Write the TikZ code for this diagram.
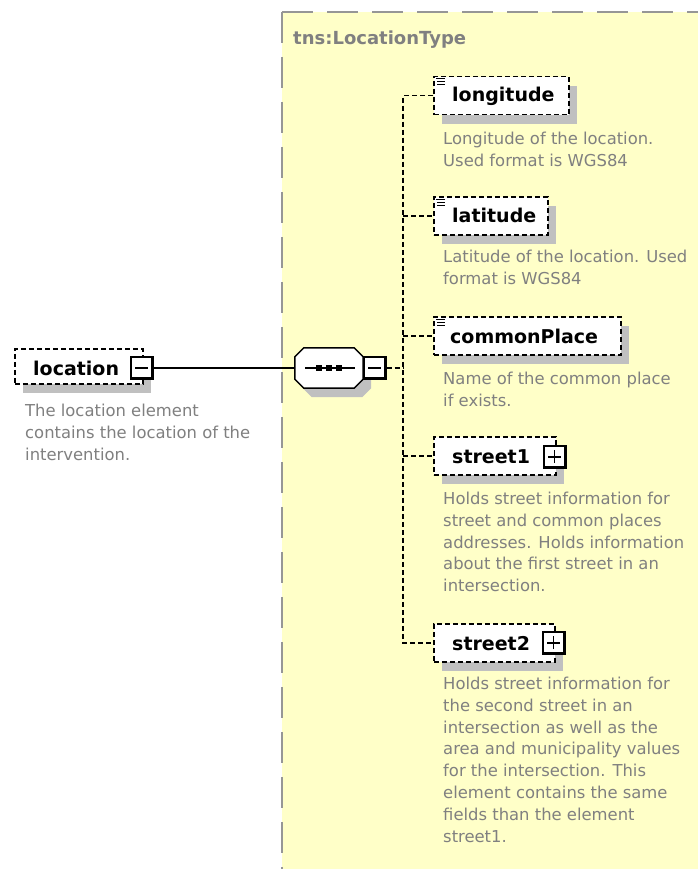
\documentclass[tikz,border=0pt]{standalone}
\usepackage{fontspec}
\setmainfont{DejaVu Sans}
\usetikzlibrary{shadows}

\definecolor{typefill}{RGB}{255,255,200}
\definecolor{typeedge}{RGB}{150,150,150}
\definecolor{shadowgray}{RGB}{192,192,192}
\definecolor{doc}{RGB}{128,128,128}

% octagon with 9pt chamfers spanning the given node
\newcommand\octagonpath[1]{([xshift=9pt]#1.north west) -- ([xshift=-9pt]#1.north east)
    -- ([yshift=-9pt]#1.north east) -- ([yshift=9pt]#1.south east)
    -- ([xshift=-9pt]#1.south east) -- ([xshift=9pt]#1.south west)
    -- ([yshift=9pt]#1.south west) -- ([yshift=-9pt]#1.north west) -- cycle}

\tikzset{
  boxshadow/.style={drop shadow={shadow xshift=8pt,shadow yshift=-9pt,fill=shadowgray,opacity=1}},
  elembox/.style={draw=black,fill=white,line width=1.5pt,dash pattern=on 5pt off 3pt,
    inner sep=0pt,anchor=north west,boxshadow},
  elemname/.style={inner sep=0pt,anchor=base west,text=black,
    font=\bfseries\fontsize{19}{19}\selectfont},
  doctext/.style={inner sep=0pt,anchor=base west,text=doc,
    font=\fontsize{16.4}{21.8}\selectfont},
  typename/.style={inner sep=0pt,anchor=base west,text=doc,
    font=\bfseries\fontsize{18}{18}\selectfont},
  typeborder/.style={draw=typeedge,line width=1.8pt,dash pattern=on 31pt off 14pt},
  conn/.style={draw=black,line width=1.6pt},
  dconn/.style={draw=black,line width=1.5pt,dash pattern=on 5pt off 3pt},
  togglebox/.style={draw=black,fill=white,line width=1.4pt,minimum width=22pt,
    minimum height=22pt,inner sep=0pt},
  minusbox/.style={togglebox,path picture={
      \draw[line width=4.5pt] (path picture bounding box.north east)
        -- (path picture bounding box.south east)
        -- (path picture bounding box.south west);
      \draw[line width=1.4pt] ([xshift=-7pt]path picture bounding box.center)
        -- ([xshift=6pt]path picture bounding box.center);}},
  plusbox/.style={togglebox,path picture={
      \draw[line width=4.5pt] (path picture bounding box.north east)
        -- (path picture bounding box.south east)
        -- (path picture bounding box.south west);
      \draw[line width=1.4pt] ([xshift=-7pt]path picture bounding box.center)
        -- ([xshift=6pt]path picture bounding box.center);
      \draw[line width=1.4pt] ([yshift=-6pt,xshift=-0.5pt]path picture bounding box.center)
        -- ([yshift=7pt,xshift=-0.5pt]path picture bounding box.center);}},
  seqarea/.style={minimum width=68pt,minimum height=40pt,inner sep=0pt},
  seqframe/.style={draw=black,fill=white,line width=1.5pt,line join=miter},
  listicon/.style={line width=1pt,black}
}

\begin{document}
\begin{tikzpicture}[x=1pt,y=-1pt]
  % canvas
  \fill[white] (0,0) rectangle (698,869);
  \useasboundingbox (0,0) rectangle (698,869);

  % complex type area
  \fill[typefill] (282,12) rectangle (698,869);
  \draw[typeborder] (282,12) -- (698,12);
  \draw[typeborder] (282,12) -- (282,869);
  \node[typename] (typelabel) at (293,45) {tns:LocationType};

  % root element
  \node[elembox,minimum width=128pt,minimum height=35pt] (loc) at (14,348) {};
  \node[elemname] (locname) at (33,375) {location};
  \node[minusbox] (locminus) at (142,368) {};
  \node[doctext] (locdoc) at (25,416.5) {\parbox[t]{260pt}{The location element\\
    contains the location of the\\intervention.}};

  % sequence compositor: octagonal frame and its shadow
  \node[seqarea] (seqshadow) at (337,377) {};
  \node[seqarea] (seq) at (329,368) {};
  \fill[shadowgray] \octagonpath{seqshadow};
  \path[seqframe] \octagonpath{seq};
  \draw[line width=1.4pt] ([xshift=-24pt]seq.center) -- ([xshift=26pt]seq.center);
  \foreach \dx in {-10,0,10}
    \fill ([xshift=\dx pt]seq.center) +(-3pt,-3pt) rectangle +(3pt,3pt);
  \node[minusbox] (seqminus) at (375,368) {};

  \draw[conn] (locminus.east) -- (seq.west);

  % child elements
  \node[elembox,minimum width=135pt,minimum height=38pt] (lon) at (433,76) {};
  \node[elembox,minimum width=114pt,minimum height=38pt] (lat) at (433,196) {};
  \node[elembox,minimum width=187pt,minimum height=38pt] (cp) at (433,316) {};
  \node[elembox,minimum width=122pt,minimum height=38pt] (st1) at (433,436) {};
  \node[elembox,minimum width=121pt,minimum height=38pt] (st2) at (433,623) {};

  % branches of the sequence
  \coordinate (tk) at (403,368);
  \draw[dconn] (seqminus.east) -- (tk);
  \draw[dconn] (lon.west) -| (tk) |- (st2.west);
  \draw[dconn] (tk |- lat.west) -- (lat.west);
  \draw[dconn] (tk |- cp.west) -- (cp.west);
  \draw[dconn] (tk |- st1.west) -- (st1.west);

  % simple-content markers
  \foreach \b in {lon,lat,cp}{
    \draw[listicon] ([shift={(3pt,-3pt)}]\b.north west) -- ++(9pt,0);
    \draw[listicon] ([shift={(4pt,-6pt)}]\b.north west) -- ++(8pt,0);
    \draw[listicon] ([shift={(4pt,-9pt)}]\b.north west) -- ++(8pt,0);
  }

  \node[elemname] (lonname) at (452,102) {longitude};
  \node[elemname] (latname) at (452,222) {latitude};
  \node[elemname] (cpname) at (450,343) {commonPlace};
  \node[elemname] (st1name) at (452,463) {street1};
  \node[elemname] (st2name) at (452,650) {street2};
  \node[plusbox] (st1plus) at (555,457) {};
  \node[plusbox] (st2plus) at (554,643) {};

  % annotations
  \node[doctext] (londoc) at (443,144.5) {\parbox[t]{250pt}{Longitude of the location.\\
    Used format is WGS84}};
  \node[doctext] (latdoc) at (443,262.5) {\parbox[t]{250pt}{Latitude of the location. Used\\
    format is WGS84}};
  \node[doctext] (cpdoc) at (443,384.5) {\parbox[t]{250pt}{Name of the common place\\
    if exists.}};
  \node[doctext] (st1doc) at (443,504.5) {\parbox[t]{250pt}{Holds street information for\\
    street and common places\\addresses. Holds information\\about the first street in an\\
    intersection.}};
  \node[doctext] (st2doc) at (443,689.5) {\parbox[t]{250pt}{Holds street information for\\
    the second street in an\\intersection as well as the\\area and municipality values\\
    for the intersection. This\\element contains the same\\fields than the element\\
    street1.}};
\end{tikzpicture}
\end{document}
